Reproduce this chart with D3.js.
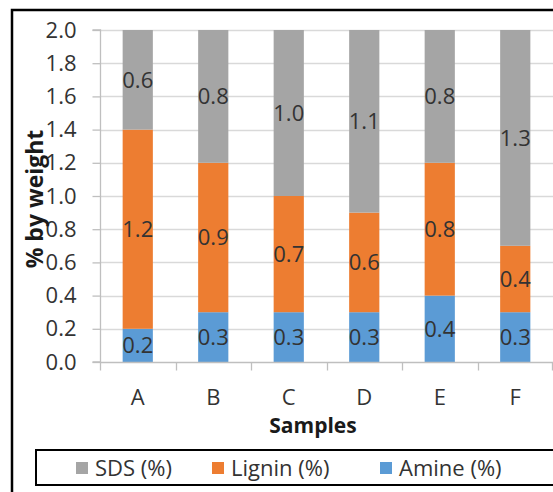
<!DOCTYPE html>
<html>
<head>
<meta charset="utf-8">
<script src="https://cdn.jsdelivr.net/npm/d3@7"></script>
<style>
  html, body { margin: 0; padding: 0; background: #fff; }
  svg { display: block; }
  text { font-family: "Open Sans", "Liberation Sans", sans-serif; }
</style>
</head>
<body>
<svg id="chart" width="553" height="492"></svg>
<script>
const categories = ["A", "B", "C", "D", "E", "F"];
const amine  = [0.2, 0.3, 0.3, 0.3, 0.4, 0.3];
const lignin = [1.2, 0.9, 0.7, 0.6, 0.8, 0.4];
const sds    = [0.6, 0.8, 1.0, 1.1, 0.8, 1.3];
const seriesNames = ["SDS (%)", "Lignin (%)", "Amine (%)"];
const yTicks = [0.0, 0.2, 0.4, 0.6, 0.8, 1.0, 1.2, 1.4, 1.6, 1.8, 2.0];

const colors = { "Amine (%)": "#5B9BD5", "Lignin (%)": "#ED7D31", "SDS (%)": "#A5A5A5" };
const textColor = "#333333";

const svg = d3.select("#chart");
const W = 553, H = 492;
const plot = { left: 100, right: 553, top: 30, bottom: 362 };

svg.append("rect").attr("width", W).attr("height", H).attr("fill", "#fff");

const x = d3.scaleBand().domain(categories).range([plot.left, plot.right]).paddingInner(0.6).paddingOuter(0.3);
const xOuter = d3.scaleBand().domain(categories).range([plot.left, plot.right]);
const y = d3.scaleLinear().domain([0, 2]).range([plot.bottom, plot.top]);

// gridlines
svg.append("g").selectAll("line").data(yTicks.slice(1)).join("line")
  .attr("x1", plot.left).attr("x2", plot.right)
  .attr("y1", d => Math.round(y(d)) + 0.5).attr("y2", d => Math.round(y(d)) + 0.5)
  .attr("stroke", "#D9D9D9").attr("stroke-width", 1.3);

// stacked data
const table = categories.map((c, i) => ({ cat: c, "Amine (%)": amine[i], "Lignin (%)": lignin[i], "SDS (%)": sds[i] }));
const stack = d3.stack().keys(["Amine (%)", "Lignin (%)", "SDS (%)"]);
const layers = stack(table);

const bars = svg.append("g");
layers.forEach(layer => {
  bars.selectAll(null).data(layer).join("rect")
    .attr("x", d => x(d.data.cat))
    .attr("width", x.bandwidth())
    .attr("y", d => y(d[1]))
    .attr("height", d => y(d[0]) - y(d[1]))
    .attr("fill", colors[layer.key]);
});

// data labels
layers.forEach(layer => {
  bars.selectAll(null).data(layer).join("text")
    .attr("x", d => x(d.data.cat) + x.bandwidth() / 2)
    .attr("y", d => y((d[0] + d[1]) / 2))
    .attr("dy", "0.36em")
    .attr("text-anchor", "middle")
    .attr("font-size", 22)
    .attr("fill", textColor)
    .text(d => (d[1] - d[0]).toFixed(1));
});

// y axis
const yAxis = d3.axisLeft(y).tickValues(yTicks).tickFormat(d3.format(".1f")).tickSize(8).tickPadding(16);
const gy = svg.append("g").attr("transform", `translate(${plot.left + 0.5},0)`).call(yAxis);
gy.select(".domain").attr("stroke", "#BFBFBF").attr("stroke-width", 1.3).attr("d", `M-8,${plot.bottom}H0V${plot.top}H-8`);
gy.selectAll(".tick line").attr("stroke", "#BFBFBF").attr("stroke-width", 1.3);
gy.selectAll(".tick text").attr("font-size", 22).attr("fill", textColor).attr("font-family", "Open Sans");

// x axis
const gx = svg.append("g").attr("transform", `translate(0,${plot.bottom + 0.5})`);
gx.append("line").attr("x1", plot.left).attr("x2", plot.right).attr("stroke", "#BFBFBF").attr("stroke-width", 1.3);
const boundaries = categories.map(c => xOuter(c)).concat([plot.right - 1]);
gx.selectAll("line.tk").data(boundaries).join("line").attr("class", "tk")
  .attr("x1", d => Math.round(d) + 0.5).attr("x2", d => Math.round(d) + 0.5)
  .attr("y1", 0).attr("y2", 8).attr("stroke", "#BFBFBF").attr("stroke-width", 1.3);
gx.selectAll("text").data(categories).join("text")
  .attr("x", d => xOuter(d) + xOuter.bandwidth() / 2)
  .attr("y", 35).attr("dy", "0.36em")
  .attr("text-anchor", "middle").attr("font-size", 22).attr("fill", textColor)
  .text(d => d);

// axis titles
svg.append("text").attr("x", 313).attr("y", 425).attr("dy", "0.36em")
  .attr("text-anchor", "middle").attr("font-size", 21).attr("font-weight", "bold").attr("fill", "#1a1a1a")
  .text("Samples");
svg.append("text").attr("transform", "translate(43,199) rotate(-90)")
  .attr("text-anchor", "middle").attr("font-size", 23).attr("font-weight", "bold").attr("fill", "#1a1a1a")
  .text("% by weight");

// legend
svg.append("rect").attr("x", 36).attr("y", 450).attr("width", 560).attr("height", 35)
  .attr("fill", "none").attr("stroke", "#000").attr("stroke-width", 2);
const legendX = [76, 212, 380];
const lg = svg.append("g").selectAll("g").data(seriesNames).join("g")
  .attr("transform", (d, i) => `translate(${legendX[i]},468)`);
lg.append("rect").attr("x", 0).attr("y", -6).attr("width", 12).attr("height", 12).attr("fill", d => colors[d]);
lg.append("text").attr("x", 19).attr("dy", "0.36em").attr("font-size", 22).attr("fill", textColor).text(d => d);

// outer frame
svg.append("rect").attr("x", 12).attr("y", 10).attr("width", 600).attr("height", 600)
  .attr("fill", "none").attr("stroke", "#000").attr("stroke-width", 2.5);
</script>
</body>
</html>
